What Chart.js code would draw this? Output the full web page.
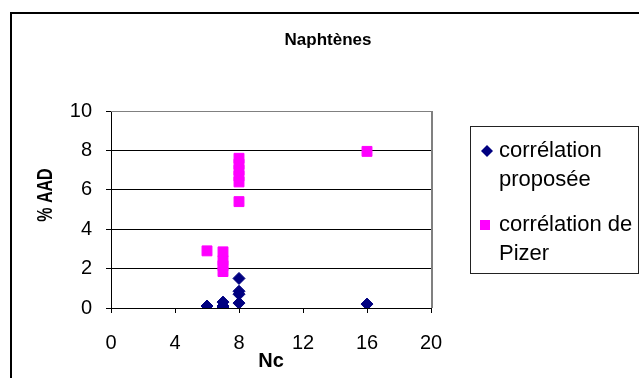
<!DOCTYPE html>
<html>
<head>
<meta charset="utf-8">
<script src="https://cdn.jsdelivr.net/npm/chart.js@4.4.0/dist/chart.umd.min.js"></script>
<style>
  html, body { margin: 0; padding: 0; background: #fff; }
  #wrap { width: 639px; height: 378px; }
</style>
</head>
<body>
<div id="wrap"><canvas id="chart1" width="639" height="378"></canvas></div>
<script>
// data
const proposeeX = [6, 7, 7, 7, 8, 8, 8, 8, 16];
const proposeeY = [0.1, 0.3, 0.1, 0.0, 1.5, 0.85, 0.7, 0.25, 0.2];
const pizerX = [6, 7, 7, 7, 7, 8, 8, 8, 8, 8, 8, 16];
const pizerY = [2.9, 2.85, 2.4, 2.15, 1.85, 7.6, 7.3, 7.0, 6.7, 6.4, 5.4, 7.95];
const seriesNames = [["corrélation", "proposée"], ["corrélation de", "Pizer"]];
const xTicks = [0, 4, 8, 12, 16, 20];
const yTicks = [0, 2, 4, 6, 8, 10];

const toPoints = (xs, ys) => xs.map((x, i) => ({ x: x, y: ys[i] }));

const FONT = "'Liberation Sans', Arial, sans-serif";

const decorations = {
    id: 'decorations',
    beforeDatasetsDraw(chart) {
        const { ctx, chartArea: a } = chart;
        // grey plot-area frame on top and right
        ctx.save();
        ctx.strokeStyle = '#808080';
        ctx.lineWidth = 1;
        ctx.beginPath();
        ctx.moveTo(a.left, a.top + 0.5);
        ctx.lineTo(a.right + 0.5, a.top + 0.5);
        ctx.stroke();
        ctx.lineWidth = 2;
        ctx.beginPath();
        ctx.moveTo(a.right + 1, a.top);
        ctx.lineTo(a.right + 1, a.bottom);
        ctx.stroke();
        ctx.restore();
    },
    afterDraw(chart) {
        const { ctx, chartArea: a } = chart;
        ctx.save();
        // outer frame
        ctx.strokeStyle = '#000';
        ctx.lineWidth = 2;
        ctx.strokeRect(11, 13, 700, 500);

        // title
        ctx.fillStyle = '#000';
        ctx.textAlign = 'center';
        ctx.textBaseline = 'middle';
        ctx.font = 'bold 17px ' + FONT;
        ctx.fillText('Naphtènes', 328, 40);

        // x axis title
        ctx.font = 'bold 20px ' + FONT;
        ctx.fillText('Nc', (a.left + a.right) / 2, 361);

        // y axis title
        ctx.save();
        ctx.translate(46, 195);
        ctx.rotate(-Math.PI / 2);
        ctx.scale(1, 1.4);
        ctx.font = 'bold 16px ' + FONT;
        ctx.fillText('% AAD', 0, 0);
        ctx.restore();

        // legend
        ctx.strokeStyle = '#222';
        ctx.lineWidth = 1;
        ctx.strokeRect(470.5, 126.5, 168, 147);
        ctx.textAlign = 'left';
        ctx.textBaseline = 'alphabetic';
        ctx.font = '22px ' + FONT;
        const baseY = [157, 231];
        const markY = [151, 225];
        chart.data.datasets.forEach((ds, i) => {
            ctx.fillStyle = ds.backgroundColor;
            ctx.beginPath();
            if (ds.pointStyle === 'rectRot') {
                ctx.moveTo(487, markY[i] - 6);
                ctx.lineTo(493, markY[i]);
                ctx.lineTo(487, markY[i] + 6);
                ctx.lineTo(481, markY[i]);
                ctx.closePath();
            } else {
                ctx.rect(480, markY[i] - 5, 10, 10);
            }
            ctx.fill();
            ctx.fillStyle = '#000';
            seriesNames[i].forEach((line, j) => {
                ctx.fillText(line, 499, baseY[i] + j * 29);
            });
        });
        ctx.restore();
    }
};

new Chart(document.getElementById('chart1').getContext('2d'), {
    type: 'scatter',
    data: {
        datasets: [
            {
                label: seriesNames[0].join(' '),
                data: toPoints(proposeeX, proposeeY),
                pointStyle: 'rectRot',
                pointRadius: 6,
                borderWidth: 1,
                backgroundColor: '#000080',
                borderColor: '#000080'
            },
            {
                label: seriesNames[1].join(' '),
                data: toPoints(pizerX, pizerY),
                pointStyle: 'rect',
                pointRadius: 7,
                borderWidth: 1,
                backgroundColor: '#ff00ff',
                borderColor: '#ff00ff'
            }
        ]
    },
    options: {
        responsive: false,
        animation: false,
        layout: { padding: { top: 111, right: 208, bottom: 0, left: 0 } },
        plugins: {
            legend: { display: false },
            title: { display: false },
            tooltip: { enabled: false }
        },
        scales: {
            x: {
                type: 'linear',
                min: 0,
                max: 20,
                afterFit: (s) => { s.height = 70; },
                afterBuildTicks: (s) => { s.ticks = xTicks.map(v => ({ value: v })); },
                grid: { drawOnChartArea: false, drawTicks: true, tickLength: 5, tickColor: '#000' },
                border: { color: '#000', width: 1 },
                ticks: { color: '#000', padding: 18, maxRotation: 0, font: { family: FONT, size: 20 } }
            },
            y: {
                type: 'linear',
                min: 0,
                max: 10,
                afterFit: (s) => { s.width = 111; },
                afterBuildTicks: (s) => { s.ticks = yTicks.map(v => ({ value: v })); },
                grid: { color: '#000', lineWidth: 1, drawTicks: true, tickLength: 5, tickColor: '#000' },
                border: { color: '#000', width: 1 },
                ticks: { color: '#000', padding: 14, font: { family: FONT, size: 20 } }
            }
        }
    },
    plugins: [decorations]
});
</script>
</body>
</html>
